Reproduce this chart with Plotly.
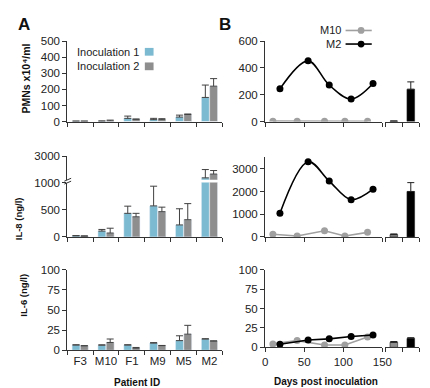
import plotly.graph_objects as go

# ---------------- data ----------------
patients = ["F3", "M10", "F1", "M9", "M5", "M2"]

pmn_inoc1 = [2, 2, 20, 12, 28, 150]
pmn_inoc1_err = [1, 2, 14, 8, 12, 77]
pmn_inoc2 = [2, 4, 14, 12, 44, 220]
pmn_inoc2_err = [1, 5, 2, 6, 3, 47]

il8_inoc1 = [20, 107, 434, 571, 220, 1250]
il8_inoc1_err = [3, 30, 132, 363, 298, 680]
il8_inoc2 = [15, 71, 369, 464, 316, 1560]
il8_inoc2_err = [3, 89, 65, 84, 297, 290]

il6_inoc1 = [6.5, 6.4, 6.5, 8.9, 12, 14]
il6_inoc1_err = [0.3, 0.3, 0.3, 0.6, 6, 0.3]
il6_inoc2 = [5.5, 9.7, 2.5, 5.7, 20, 11.4]
il6_inoc2_err = [0.2, 4.3, 1, 0.3, 11, 0.3]

m10_days = [10, 41, 76, 102, 131]
m2_days = [19, 55, 82, 110, 138]

pmn_m10 = [3, 2, 2, 2, 2]
pmn_m2 = [244, 453, 272, 168, 284]
il8_m10 = [115, 40, 270, 40, 200]
il8_m2 = [1040, 3310, 2460, 1640, 2100]
il6_m10 = [4.5, 8.7, 3, 3, 13.5]
il6_m2 = [4, 9.5, 11, 14, 16]

mean_labels = ["M10", "M2"]
pmn_mean = [3, 241]
pmn_mean_err = [1, 55]
il8_mean = [100, 2000]
il8_mean_err = [30, 390]
il6_mean = [6.5, 11.5]
il6_mean_err = [1, 1]

# ---------------- style ----------------
W, H = 430, 388
BLUE = "#7bbad0"
GREY = "#8e8e8e"
LGREY = "#a0a0a0"
AX = "#333333"
FONT = "Liberation Sans, Arial, sans-serif"


def px(x):
    return x / W


def py(y):
    return 1 - y / H


fig = go.Figure()


def err(e, color="#404040"):
    return dict(type="data", symmetric=False, array=e, arrayminus=[0] * len(e),
                color=color, thickness=1, width=3.5)


def add_pair(v1, e1, v2, e2, xa, ya):
    fig.add_trace(go.Bar(x=patients, y=v1, error_y=err(e1), marker_color=BLUE,
                         xaxis=xa, yaxis=ya, showlegend=False))
    fig.add_trace(go.Bar(x=patients, y=v2, error_y=err(e2), marker_color=GREY,
                         xaxis=xa, yaxis=ya, showlegend=False))


add_pair(pmn_inoc1, pmn_inoc1_err, pmn_inoc2, pmn_inoc2_err, "x", "y")
add_pair(il8_inoc1, il8_inoc1_err, il8_inoc2, il8_inoc2_err, "x2", "y2")
add_pair(il8_inoc1, il8_inoc1_err, il8_inoc2, il8_inoc2_err, "x3", "y3")
add_pair(il6_inoc1, il6_inoc1_err, il6_inoc2, il6_inoc2_err, "x4", "y4")


def add_lines(v10, v2, xa, ya, shape2):
    fig.add_trace(go.Scatter(x=m10_days, y=v10, mode="lines+markers",
                             line=dict(color=LGREY, width=1.6),
                             marker=dict(color=LGREY, size=7),
                             xaxis=xa, yaxis=ya, showlegend=False))
    fig.add_trace(go.Scatter(x=m2_days, y=v2, mode="lines+markers",
                             line=dict(color="black", width=1.6, shape=shape2, smoothing=1),
                             marker=dict(color="black", size=7),
                             xaxis=xa, yaxis=ya, showlegend=False))


def add_mean(v, e, xa, ya):
    fig.add_trace(go.Bar(x=mean_labels, y=v, width=0.45,
                         error_y=err(e, "#222222"),
                         marker=dict(color=[GREY, "black"], line=dict(color="#222", width=0.6)),
                         xaxis=xa, yaxis=ya, showlegend=False))


add_lines(pmn_m10, pmn_m2, "x5", "y5", "spline")
add_mean(pmn_mean, pmn_mean_err, "x6", "y6")
add_lines(il8_m10, il8_m2, "x7", "y7", "spline")
add_mean(il8_mean, il8_mean_err, "x8", "y8")
add_lines(il6_m10, il6_m2, "x9", "y9", "linear")
add_mean(il6_mean, il6_mean_err, "x10", "y10")

tickfont = dict(family=FONT, size=11.5, color="#222")

ybase = dict(showline=True, linecolor=AX, linewidth=1, ticks="outside", ticklen=4,
             tickcolor=AX, showgrid=False, zeroline=False, tickfont=tickfont)
xcat = dict(type="category", showline=True, linecolor=AX, linewidth=1, ticks="outside",
            ticklen=4, tickcolor=AX, tickson="boundaries", showgrid=False,
            zeroline=False, tickfont=tickfont, range=[-0.5, 5.5], tickangle=0)

A_X = [px(58), px(218)]
B_X = [px(262), px(383)]
BB_X = [px(386), px(421)]

rowA1 = [py(111), py(28)]
rowA2u = [py(171), py(147)]
rowA2l = [py(230), py(174)]
rowA3 = [py(347), py(264)]
rowB1 = [py(111), py(28)]
rowB2 = [py(230), py(148)]
rowB3 = [py(344), py(264)]

lay = {}
# panel A
lay["xaxis"] = dict(xcat, domain=A_X, anchor="y", showticklabels=False)
lay["yaxis"] = dict(ybase, domain=rowA1, anchor="x", range=[0, 500], tickvals=[0, 100, 200, 300, 400, 500])
lay["xaxis2"] = dict(xcat, domain=A_X, anchor="y2", showticklabels=False, showline=False, ticks="")
lay["yaxis2"] = dict(ybase, domain=rowA2u, anchor="x2", range=[1100, 3000], tickvals=[3000])
lay["xaxis3"] = dict(xcat, domain=A_X, anchor="y3", showticklabels=False)
lay["yaxis3"] = dict(ybase, domain=rowA2l, anchor="x3", range=[0, 1000], tickvals=[0, 500, 1000])
lay["xaxis4"] = dict(xcat, domain=A_X, anchor="y4", showticklabels=True)
lay["yaxis4"] = dict(ybase, domain=rowA3, anchor="x4", range=[0, 100], tickvals=[0, 25, 50, 75, 100])

# panel B
xlin = dict(showline=True, linecolor=AX, linewidth=1, ticks="outside", ticklen=4, tickcolor=AX,
            showgrid=False, zeroline=False, tickfont=tickfont, range=[0, 150],
            tickvals=[0, 50, 100, 150])
xbar = dict(xcat, range=[-0.5, 1.5], showticklabels=False)
yhid = dict(showline=False, showticklabels=False, ticks="", showgrid=False, zeroline=False)

lay["xaxis5"] = dict(xlin, domain=B_X, anchor="y5", showticklabels=False)
lay["yaxis5"] = dict(ybase, domain=rowB1, anchor="x5", range=[0, 600], tickvals=[0, 200, 400, 600])
lay["xaxis6"] = dict(xbar, domain=BB_X, anchor="y6")
lay["yaxis6"] = dict(yhid, domain=rowB1, anchor="x6", range=[0, 600])
lay["xaxis7"] = dict(xlin, domain=B_X, anchor="y7", showticklabels=False)
lay["yaxis7"] = dict(ybase, domain=rowB2, anchor="x7", range=[0, 3500], tickvals=[0, 1000, 2000, 3000])
lay["xaxis8"] = dict(xbar, domain=BB_X, anchor="y8")
lay["yaxis8"] = dict(yhid, domain=rowB2, anchor="x8", range=[0, 3500])
lay["xaxis9"] = dict(xlin, domain=B_X, anchor="y9", showticklabels=True)
lay["yaxis9"] = dict(ybase, domain=rowB3, anchor="x9", range=[0, 100], tickvals=[0, 25, 50, 75, 100])
lay["xaxis10"] = dict(xbar, domain=BB_X, anchor="y10")
lay["yaxis10"] = dict(yhid, domain=rowB3, anchor="x10", range=[0, 100])

fig.update_layout(**lay)

ann = []


def text(x, y, t, size=10, bolded=True, angle=0, xanchor="center", color="#111"):
    ann.append(dict(x=px(x), y=py(y), xref="paper", yref="paper", text=("<b>%s</b>" % t) if bolded else t,
                    showarrow=False, textangle=angle, xanchor=xanchor, yanchor="middle",
                    font=dict(family=FONT, size=size, color=color)))


text(13, 11, "A", size=17)
text(221, 11, "B", size=17)
text(15, 67, "PMNs x10⁴/ml", size=10.5, angle=-90)
text(8, 211, "IL-8 (ng/l)", size=9.5, angle=-90)
text(12, 290, "IL-6 (ng/l)", size=9.5, angle=-90)
text(130, 380, "Patient ID", size=10)
text(325, 379, "Days post inoculation", size=10)

# legend A
text(134, 39, "Inoculation 1", size=11, bolded=False, xanchor="right", color="#222")
text(134, 54, "Inoculation 2", size=11, bolded=False, xanchor="right", color="#222")
# legend B
text(342, 17, "M10", size=11, bolded=False, xanchor="right", color="#222")
text(342, 31, "M2", size=11, bolded=False, xanchor="right", color="#222")

shapes = []


def rect(x0, y0, x1, y1, c):
    shapes.append(dict(type="rect", xref="paper", yref="paper", x0=px(x0), x1=px(x1),
                       y0=py(y1), y1=py(y0), fillcolor=c, line=dict(width=0)))


def seg(x0, y0, x1, y1, c, w=1.6):
    shapes.append(dict(type="line", xref="paper", yref="paper", x0=px(x0), x1=px(x1),
                       y0=py(y0), y1=py(y1), line=dict(color=c, width=w)))


def dot(x, y, r, c):
    shapes.append(dict(type="circle", xref="paper", yref="paper", x0=px(x - r), x1=px(x + r),
                       y0=py(y + r), y1=py(y - r), fillcolor=c, line=dict(width=0)))


rect(138, 35, 147, 43, BLUE)
rect(138, 50, 147, 58, GREY)
seg(345, 17, 372, 17, LGREY)
dot(361, 17, 3.5, LGREY)
seg(345, 31, 372, 31, "black")
dot(361, 31, 3.5, "black")
# axis break marks
seg(55, 172.5, 62, 169.5, AX, 1)
seg(55, 175.5, 62, 172.5, AX, 1)

fig.update_layout(annotations=ann, shapes=shapes)

fig.update_layout(width=W, height=H, autosize=False, margin=dict(l=0, r=0, t=0, b=0),
                  paper_bgcolor="white", plot_bgcolor="white", barmode="group",
                  bargap=0.36, bargroupgap=0.05, font=dict(family=FONT))

fig.write_html("out.html")
